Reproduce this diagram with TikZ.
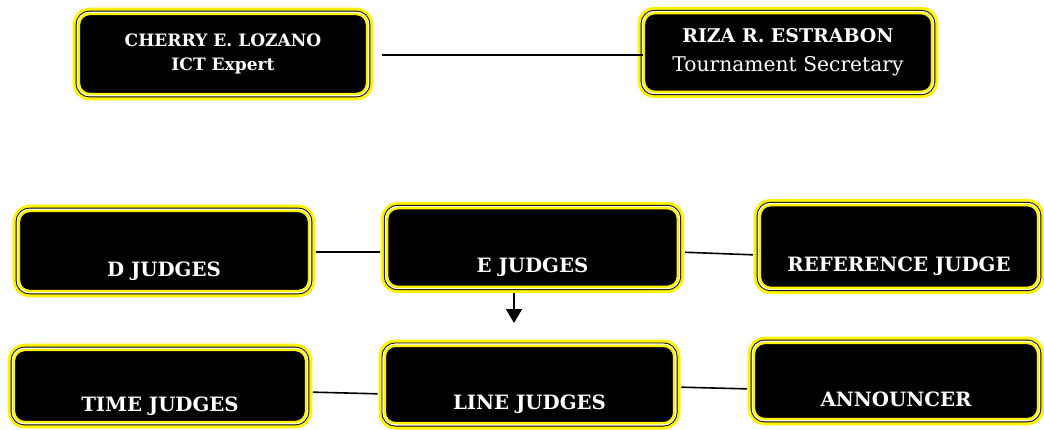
\documentclass[tikz,border=0pt]{standalone}
\usepackage{fontspec}
\setmainfont{DejaVu Serif}
\usepackage{tikz}
\usetikzlibrary{arrows.meta}
\tikzstyle{orgbox} = [rectangle, rounded corners=8pt, fill=black, text=white,
           draw=yellow, line width=1.8pt, align=center, inner sep=2pt,
           preaction={draw=yellow, line width=9.5pt},
           preaction={draw=black, line width=5pt},
           preaction={draw=white, line width=3.6pt}]
\tikzstyle{namebox} = [orgbox, minimum width=216pt, minimum height=60pt]
\tikzstyle{judgebox} = [orgbox, minimum width=217pt, minimum height=59pt,
           font=\bfseries\fontsize{14.8}{17}\selectfont,
           text height=38pt, text depth=0pt]
\tikzstyle{link} = [line width=1.2pt, shorten <=4.5pt, shorten >=4.5pt]
\tikzstyle{arrow} = [line width=1.2pt, -{Triangle[width=12pt,length=10.5pt]}]

\begin{document}
\begin{tikzpicture}[x=0.75pt, y=-0.75pt]
\useasboundingbox (0,0) rectangle (1044,429);
% top row
\node (cherry) [namebox, font=\bfseries\fontsize{12.8}{18}\selectfont] at (223,54)
   {CHERRY E. LOZANO\\ICT Expert};
\node (riza) [namebox, minimum height=59pt, font=\fontsize{15.2}{21}\selectfont] at (788,52.5)
   {\fontsize{14.2}{21}\selectfont\textbf{RIZA R. ESTRABON}\\[1pt]Tournament Secretary};
% judges
\node (djudges) [judgebox, minimum width=217.5pt, minimum height=60pt] at (164,251)
   {D JUDGES};
\node (ejudges) [judgebox, minimum width=218pt] at (532.5,247.5)
   {E JUDGES};
\node (reference) [judgebox, minimum width=208.5pt, minimum height=62pt] at (899,246.5)
   {REFERENCE JUDGE};
\node (timejudges) [judgebox, minimum width=219pt, minimum height=54pt] at (160,386)
   {TIME JUDGES};
\node (linejudges) [judgebox, minimum width=217pt, minimum height=58pt] at (529.5,384.5)
   {LINE JUDGES};
\node (announcer) [judgebox, minimum width=213pt, minimum height=57pt] at (896,381)
   {ANNOUNCER};
\coordinate (arrowtip) at (514,323);
\draw [link, shorten <=10.5pt, shorten >=0pt] ([yshift=-0.75pt]cherry.east) -- ([yshift=-1.9pt]riza.west);
\draw [link] ([yshift=-0.75pt]djudges.east) -- ([yshift=-3.4pt]ejudges.west);
\draw [link] ([yshift=-3.4pt]ejudges.east) -- ([yshift=-6.4pt]reference.west);
\draw [link] ([yshift=-4.5pt]timejudges.east) -- ([yshift=-7.1pt]linejudges.west);
\draw [link] ([yshift=-1.9pt]linejudges.east) -- ([yshift=-6pt]announcer.west);
\draw [arrow, shorten <=4pt] (ejudges.south -| arrowtip) -- (arrowtip);
\end{tikzpicture}
\end{document}
